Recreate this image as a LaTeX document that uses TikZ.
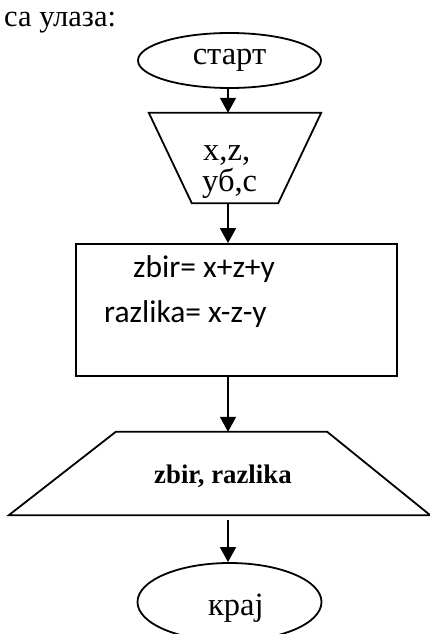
\documentclass[tikz,border=0pt]{standalone}
\usepackage{fontspec}
\setmainfont{Liberation Serif}
\newfontfamily\carlito{Carlito}
\usetikzlibrary{shapes.geometric,arrows.meta}
\begin{document}
\begin{tikzpicture}[x=1pt,y=-1pt,
  shapeline/.style={draw=black,line width=1.8pt},
  flowarrow/.style={draw=black,line width=1.8pt,-{Triangle[width=16pt,length=15pt]}},
  serif32/.style={font=\fontsize{32.5}{38}\selectfont},
  terminal/.style={shapeline,ellipse,inner sep=0pt,serif32},
  sanstext/.style={font=\carlito\fontsize{31.5}{38}\selectfont,anchor=base west,inner sep=0pt}]
\useasboundingbox (0,0) rectangle (430,634);
\begin{scope}
\clip (0,0) rectangle (430,634);
% heading
\node[font=\fontsize{30.5}{36}\selectfont,anchor=base west,inner sep=0pt] (head) at (4,27) {са улаза:};
% start
\node[terminal,minimum width=183pt,minimum height=55pt] (start) at (229.5,60.5) {старт};
% input trapezoid
\node[minimum width=172pt,minimum height=90pt,inner sep=0pt] (in) at (235,158) {};
\draw[shapeline] (in.north west) -- (in.north east) -- ([xshift=-43pt]in.south east) -- ([xshift=43pt]in.south west) -- cycle;
\node[serif32,align=left,anchor=base west,inner sep=0pt] (inA) at (203,160) {x,z,};
\node[serif32,align=left,anchor=base west,inner sep=0pt] (inB) at (202,191) {уб,с};
% process box
\node[shapeline,rectangle,minimum width=321pt,minimum height=132pt,inner sep=0pt] (box) at (236.5,310) {};
\node[sanstext] (l1) at (133,277) {zbir= x+z+y};
\node[sanstext] (l2) at (104,322) {razlika= x-z-y};
% output trapezoid
\node[minimum width=421pt,minimum height=83pt,inner sep=0pt] (out) at (219.5,473.5) {};
\draw[shapeline] ([xshift=107pt]out.north west) -- ([xshift=-103pt]out.north east) -- (out.south east) -- (out.south west) -- cycle;
\node[font=\bfseries\fontsize{26.8}{32}\selectfont,anchor=base west,inner sep=0pt] (outt) at (154,483) {zbir, razlika};
% end
\node[terminal,minimum width=184pt,minimum height=78pt] (end) at (229.5,602) {};
\node[serif32,anchor=base west,inner sep=0pt] (endt) at (208,615) {крај};
% connectors
\coordinate (ax) at (228,0);
\draw[flowarrow] (ax |- start.south) -- (ax |- in.north);
\draw[flowarrow] (ax |- in.south) -- (ax |- box.north);
\draw[flowarrow] (ax |- box.south) -- (ax |- out.north);
\draw[flowarrow,shorten <=5pt] (ax |- out.south) -- (ax |- end.north);
\end{scope}
\end{tikzpicture}
\end{document}
